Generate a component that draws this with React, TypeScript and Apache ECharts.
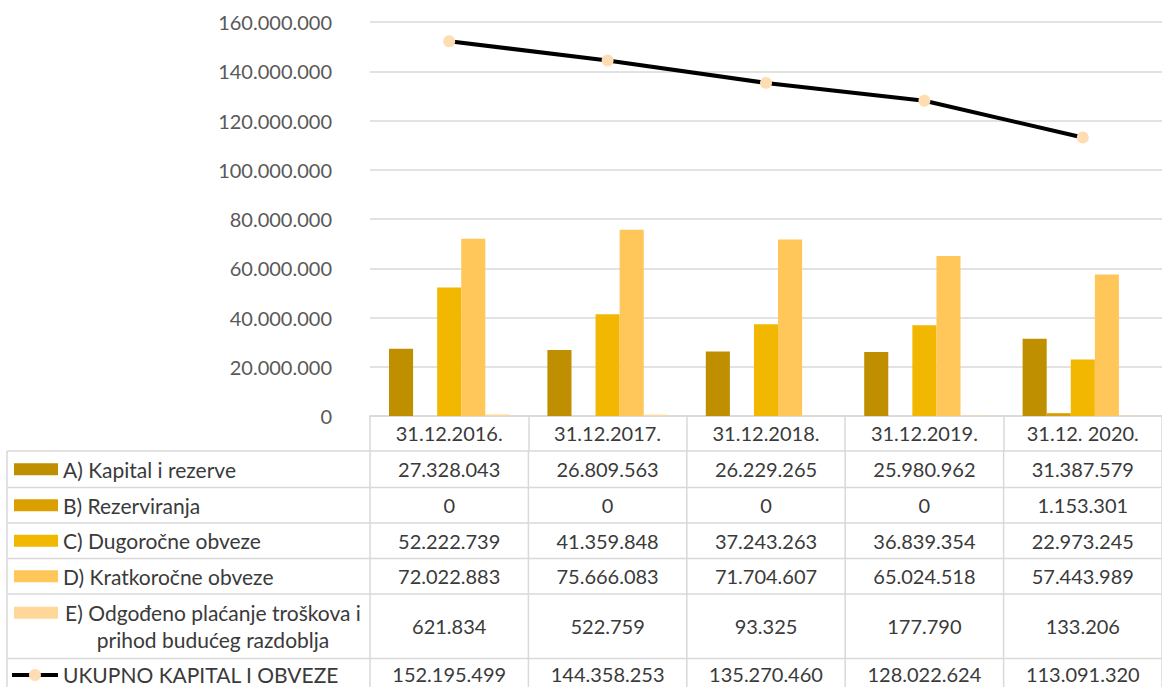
import React, { useEffect, useRef } from "react";
import * as echarts from "echarts";

const categories = ["31.12.2016.", "31.12.2017.", "31.12.2018.", "31.12.2019.", "31.12. 2020."];
const kapital = [27328043, 26809563, 26229265, 25980962, 31387579];
const rezerviranja = [0, 0, 0, 0, 1153301];
const dugorocne = [52222739, 41359848, 37243263, 36839354, 22973245];
const kratkorocne = [72022883, 75666083, 71704607, 65024518, 57443989];
const odgodeno = [621834, 522759, 93325, 177790, 133206];
const ukupno = [152195499, 144358253, 135270460, 128022624, 113091320];

const barNames = [
  "A) Kapital i rezerve",
  "B) Rezerviranja",
  "C) Dugoročne obveze",
  "D) Kratkoročne obveze",
  "E) Odgođeno plaćanje troškova i\nprihod budućeg razdoblja",
];
const lineName = "UKUPNO KAPITAL I OBVEZE";
const barData = [kapital, rezerviranja, dugorocne, kratkorocne, odgodeno];
const barColors = ["#BF8F00", "#DBA000", "#F2B700", "#FFC65A", "#FFD899"];
const lineColor = "#000000";
const markerColor = "#FFDDB3";

const yMin = 0;
const yMax = 160000000;
const yStep = 20000000;

const FONT = "Lato, 'Open Sans', sans-serif";
const GRID_COLOR = "#D9D9D9";
const TEXT_COLOR = "#3A3A3A";
const NUM_SIZE = 20;
const LABEL_SIZE = 21;

function fmt(n: number): string {
  return Math.round(n).toString().replace(/\B(?=(\d{3})+(?!\d))/g, ".");
}

export default function App() {
  const ref = useRef<HTMLDivElement>(null);
  useEffect(() => {
    if (!ref.current) return;
    const chart = echarts.init(ref.current, null, { renderer: "svg" });
    const series: any[] = barData.map((d, i) => ({
      name: barNames[i],
      type: "bar",
      data: d,
      barGap: "0%",
      barCategoryGap: "24%",
      itemStyle: { color: barColors[i] },
    }));
    series.push({
      name: lineName,
      type: "line",
      data: ukupno,
      symbol: "circle",
      symbolSize: 12,
      lineStyle: { color: lineColor, width: 4 },
      itemStyle: { color: markerColor, borderWidth: 0 },
      z: 5,
    });
    chart.setOption({
      animation: false,
      backgroundColor: "#ffffff",
      grid: { left: 370, top: 22, width: 805, height: 394, containLabel: false },
      xAxis: {
        type: "category",
        data: categories,
        axisLine: { lineStyle: { color: GRID_COLOR, width: 1.5 } },
        axisTick: { show: true, length: 35, lineStyle: { color: GRID_COLOR, width: 1.5 } },
        axisLabel: { color: TEXT_COLOR, fontSize: NUM_SIZE, fontFamily: FONT, margin: 7, interval: 0 },
      },
      yAxis: {
        type: "value",
        min: yMin,
        max: yMax,
        interval: yStep,
        axisLine: { show: false },
        axisTick: { show: false },
        axisLabel: {
          color: "#595959",
          fontSize: NUM_SIZE,
          fontFamily: FONT,
          margin: 38,
          formatter: (v: number) => fmt(v),
        },
        splitLine: { lineStyle: { color: GRID_COLOR, width: 1.5 } },
      },
      series,
    });

    // Data table below the chart
    const centers = categories.map((_, i) => chart.convertToPixel({ xAxisIndex: 0 } as any, i) as number);
    const band = centers.length > 1 ? centers[1] - centers[0] : 161;
    const bounds = centers.map((c) => c - band / 2);
    bounds.push(centers[centers.length - 1] + band / 2);
    const rowTops = [451, 487.5, 523, 558.5, 594, 658.5, 694];
    const tableLeft = 7;
    const g: any[] = [];
    rowTops.forEach((y) => {
      g.push({
        type: "line",
        shape: { x1: tableLeft, y1: y, x2: bounds[bounds.length - 1], y2: y },
        style: { stroke: GRID_COLOR, lineWidth: 1.5 },
      });
    });
    [tableLeft, ...bounds].forEach((x) => {
      g.push({
        type: "line",
        shape: { x1: x, y1: rowTops[0], x2: x, y2: rowTops[rowTops.length - 1] },
        style: { stroke: GRID_COLOR, lineWidth: 1.5 },
      });
    });
    const allRows = [...barData, ukupno];
    allRows.forEach((vals, r) => {
      const isLast = r === allRows.length - 1;
      const cy = isLast ? 674 : (rowTops[r] + rowTops[r + 1]) / 2;
      vals.forEach((v, i) => {
        g.push({
          type: "text",
          x: centers[i],
          y: cy,
          style: {
            text: fmt(v),
            fill: TEXT_COLOR,
            fontSize: NUM_SIZE,
            fontFamily: FONT,
            align: "center",
            verticalAlign: "middle",
          },
        });
      });
      if (!isLast) {
        const isMulti = barNames[r].indexOf("\n") >= 0;
        const keyY = isMulti ? cy - 13.5 : cy;
        g.push({
          type: "rect",
          shape: { x: 14, y: keyY - 6, width: 44, height: 12 },
          style: { fill: barColors[r] },
        });
        g.push({
          type: "text",
          x: isMulti ? 213 : 63,
          y: cy,
          style: {
            text: barNames[r],
            fill: TEXT_COLOR,
            fontSize: LABEL_SIZE,
            fontFamily: FONT,
            lineHeight: 27,
            align: isMulti ? "center" : "left",
            verticalAlign: "middle",
          },
        });
      } else {
        g.push({
          type: "line",
          shape: { x1: 12, y1: cy + 1, x2: 58, y2: cy + 1 },
          style: { stroke: lineColor, lineWidth: 4 },
        });
        g.push({
          type: "circle",
          shape: { cx: 35, cy: cy + 1, r: 6 },
          style: { fill: markerColor },
        });
        g.push({
          type: "text",
          x: 63,
          y: cy,
          style: {
            text: lineName,
            fill: TEXT_COLOR,
            fontSize: LABEL_SIZE,
            fontFamily: FONT,
            align: "left",
            verticalAlign: "middle",
          },
        });
      }
    });
    chart.setOption({ graphic: g });
    return () => chart.dispose();
  }, []);
  return (
    <div
      ref={ref}
      style={{ position: "fixed", left: 0, top: 0, width: 1162, height: 687, background: "#fff" }}
    />
  );
}
